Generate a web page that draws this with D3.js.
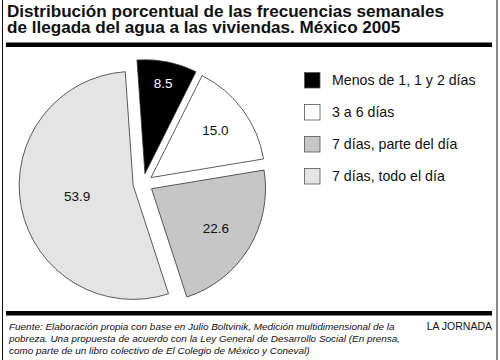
<!DOCTYPE html>
<html>
<head>
<meta charset="utf-8">
<script src="https://cdn.jsdelivr.net/npm/d3@7"></script>
<style>
html,body{margin:0;padding:0;background:#fff;}
svg{display:block;font-family:"Liberation Sans",Arial,Helvetica,sans-serif;}
</style>
</head>
<body>
<svg id="chart" width="500" height="360"></svg>
<script>
const categories = ["Menos de 1, 1 y 2 días", "3 a 6 días", "7 días, parte del día", "7 días, todo el día"];
const values = [8.5, 15.0, 22.6, 53.9];
const labels = ["8.5", "15.0", "22.6", "53.9"];
const colors = ["#000000", "#ffffff", "#c6c6c6", "#e4e4e4"];
const labelColors = ["#ffffff", "#111111", "#111111", "#111111"];
const titleLines = ["Distribución porcentual de las frecuencias semanales", "de llegada del agua a las viviendas. México 2005"];
const footLines = ["Fuente: Elaboración propia con base en Julio Boltvinik, Medición multidimensional de la",
  "pobreza. Una propuesta de acuerdo con la Ley General de Desarrollo Social (En prensa,",
  "como parte de un libro colectivo de El Colegio de México y Coneval)"];
const credit = "LA JORNADA";

const svg = d3.select("#chart");

// frame
svg.append("rect").attr("x", 2.5).attr("y", -2).attr("width", 494.5).attr("height", 370)
  .attr("fill", "none").attr("stroke", "#111").attr("stroke-width", 1);
svg.append("rect").attr("x", 6).attr("y", 42.5).attr("width", 486).attr("height", 4.5).attr("fill", "#000");
svg.append("rect").attr("x", 6).attr("y", 311).attr("width", 486).attr("height", 4.5).attr("fill", "#000");

// title (one text block, two lines)
const title = svg.append("text").attr("x", 7).attr("y", 16.5)
  .attr("font-size", 17.1).attr("font-weight", "bold").attr("fill", "#111");
title.selectAll("tspan").data(titleLines).join("tspan")
  .attr("x", 7).attr("dy", (d, i) => i === 0 ? 0 : 16.8)
  .text(d => d);

// pie
const cx = 143, cy = 183.5, r = 114, explode = 10;
const pie = d3.pie().sort(null).value(d => d)
  .startAngle(-4 * Math.PI / 180).endAngle(356 * Math.PI / 180);
const arcs = pie(values);
const arc = d3.arc().innerRadius(0).outerRadius(r);
const labelRadius = [0.81, 0.7, 0.66, 0.5];
const g = svg.append("g").attr("transform", `translate(${cx},${cy})`);
const slice = g.selectAll("g.slice").data(arcs).join("g").attr("class", "slice")
  .attr("transform", d => {
    const a = (d.startAngle + d.endAngle) / 2;
    return `translate(${explode * Math.sin(a)},${-explode * Math.cos(a)})`;
  });
slice.append("path").attr("d", arc)
  .attr("fill", (d, i) => colors[i]).attr("stroke", "#333").attr("stroke-width", 0.8);
slice.append("text")
  .attr("transform", (d, i) => {
    const a = (d.startAngle + d.endAngle) / 2;
    const rr = r * labelRadius[i];
    return `translate(${rr * Math.sin(a)},${-rr * Math.cos(a)})`;
  })
  .attr("text-anchor", "middle").attr("dy", "0.36em")
  .attr("font-size", 13.5).attr("fill", (d, i) => labelColors[i])
  .text((d, i) => labels[i]);

// legend
const leg = svg.append("g").attr("transform", "translate(304,72)");
const li = leg.selectAll("g").data(categories).join("g")
  .attr("transform", (d, i) => `translate(0,${i * 32})`);
li.append("rect").attr("x", 0.5).attr("y", 0.5).attr("width", 15.5).attr("height", 15.5)
  .attr("fill", (d, i) => colors[i]).attr("stroke", "#555").attr("stroke-width", 0.8);
li.append("text").attr("x", 28).attr("y", 13).attr("font-size", 14.2).attr("fill", "#111").text(d => d);

// footer
svg.append("g").selectAll("text").data(footLines).join("text")
  .attr("x", 9).attr("y", (d, i) => 329.5 + i * 12)
  .attr("font-size", 9.95).attr("font-style", "italic").attr("fill", "#111")
  .text(d => d);
svg.append("text").attr("x", 492).attr("y", 329.5).attr("text-anchor", "end")
  .attr("font-size", 10.5).attr("fill", "#111").text(credit);
</script>
</body>
</html>
